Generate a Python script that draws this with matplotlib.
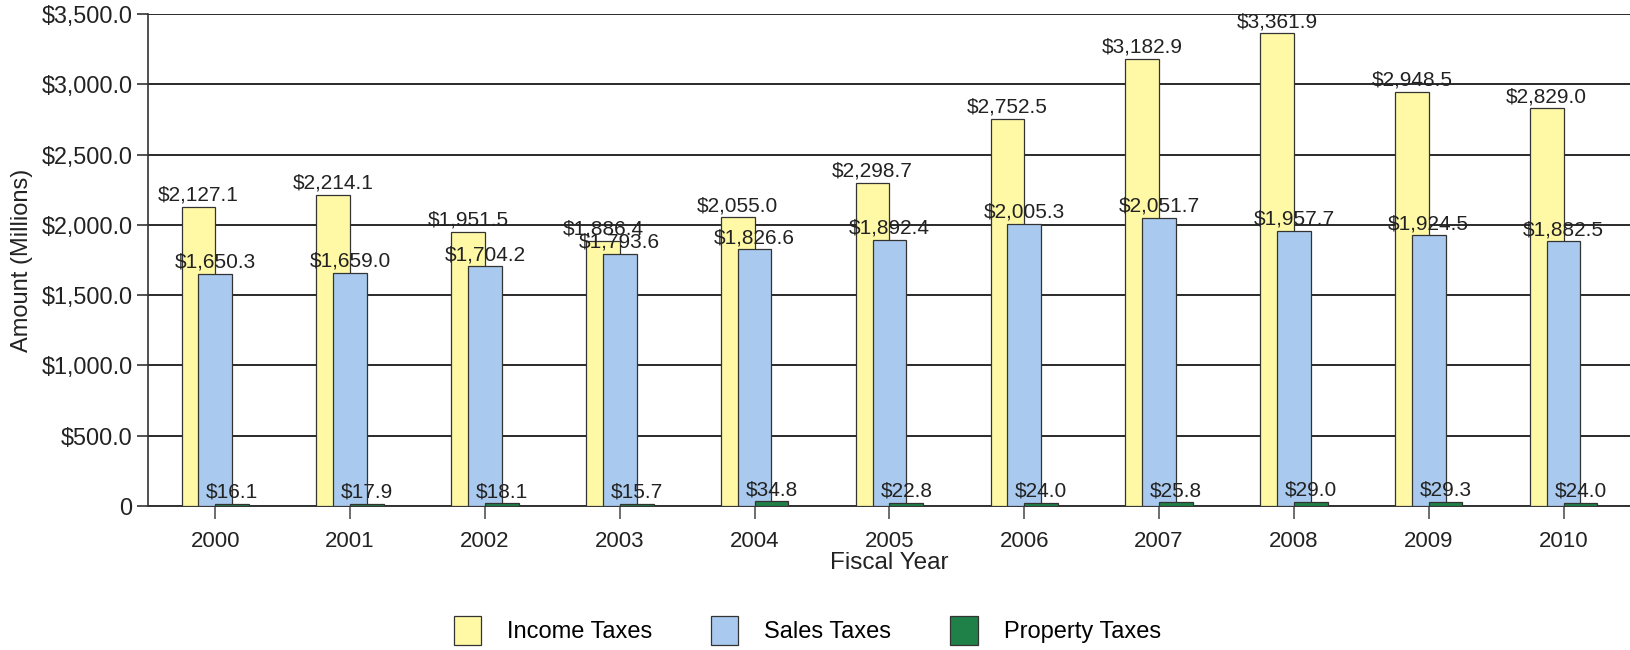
import matplotlib
matplotlib.use("Agg")
import matplotlib.pyplot as plt
import numpy as np
from matplotlib.patches import Patch

plt.rcParams['font.family'] = ['Liberation Sans', 'DejaVu Sans']

years = ["2000", "2001", "2002", "2003", "2004", "2005", "2006", "2007", "2008", "2009", "2010"]
income = [2127.1, 2214.1, 1951.5, 1886.4, 2055.0, 2298.7, 2752.5, 3182.9, 3361.9, 2948.5, 2829.0]
sales = [1650.3, 1659.0, 1704.2, 1793.6, 1826.6, 1892.4, 2005.3, 2051.7, 1957.7, 1924.5, 1882.5]
prop = [16.1, 17.9, 18.1, 15.7, 34.8, 22.8, 24.0, 25.8, 29.0, 29.3, 24.0]
series_names = ["Income Taxes", "Sales Taxes", "Property Taxes"]
yticks = [0, 500, 1000, 1500, 2000, 2500, 3000, 3500]

colors = ["#FFF9A6", "#A9C9EE", "#1F8048"]

fig = plt.figure(figsize=(16.31, 6.5), dpi=100)
ax = fig.add_axes([0.0907, 0.2215, 0.9093, 0.757])

x = np.arange(len(years))
w = 0.25
offsets = [-0.125, 0.0, 0.125]
for vals, off, c in zip([income, sales, prop], offsets, colors):
    bars = ax.bar(x + off, vals, width=w, color=c, edgecolor="#333333", linewidth=0.9, zorder=3)
    for b, v in zip(bars, vals):
        ax.text(b.get_x() + b.get_width() / 2, v + 15, f"${v:,.1f}", ha="center", va="bottom",
                fontsize=15, color="#222222", zorder=5)

ax.set_xlim(-0.5, 10.5)
ax.set_ylim(0, 3500)
ax.set_yticks(yticks)
ax.set_yticklabels(["0" if t == 0 else f"${t:,.1f}" for t in yticks], fontsize=16.8, color="#222222")
ax.set_xticks(x)
ax.set_xticklabels(years, fontsize=16, color="#222222")
ax.tick_params(axis="y", length=8, width=1.2, color="#333333", pad=3)
ax.tick_params(axis="x", length=9, width=1.2, color="#555555", pad=9)
ax.yaxis.grid(True, color="#2a2a2a", linewidth=1.4, zorder=0)
ax.set_axisbelow(True)
for s in ["top", "right"]:
    ax.spines[s].set_visible(False)
ax.spines["left"].set_color("#333333")
ax.spines["left"].set_linewidth(1.2)
ax.spines["bottom"].set_color("#333333")
ax.spines["bottom"].set_linewidth(1.4)

ax.set_xlabel("Fiscal Year", fontsize=17.5, color="#222222", labelpad=0)
ax.set_ylabel("Amount (Millions)", fontsize=17, color="#222222", labelpad=6)

handles = [Patch(facecolor=c, edgecolor="#333333", linewidth=0.9) for c in colors]
fig.legend(handles, series_names, loc="center", bbox_to_anchor=(0.495, 0.03), ncol=3,
           frameon=False, fontsize=17, handlelength=1.15, handleheight=1.5,
           handletextpad=1.1, columnspacing=2.5)

fig.savefig("out.png", dpi=100)
